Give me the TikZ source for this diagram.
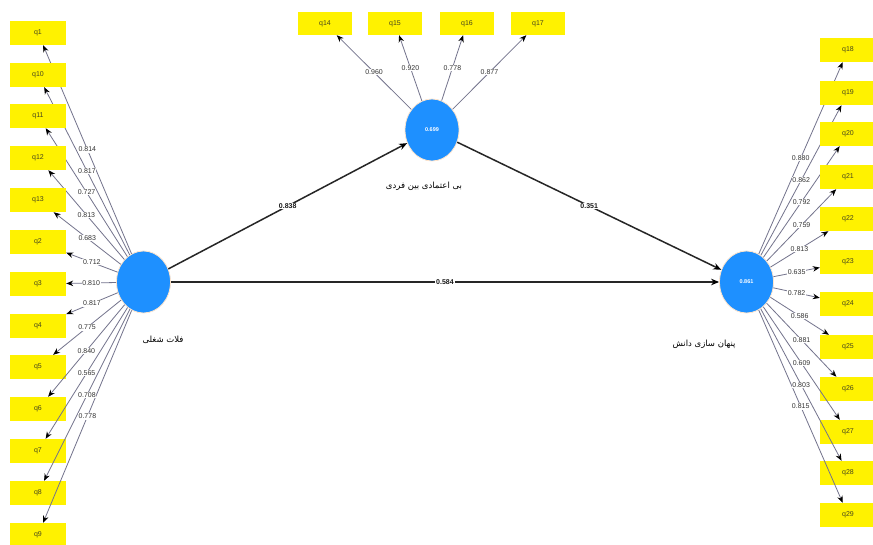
\documentclass[tikz,border=0pt]{standalone}
\usepackage{fontspec}
\setmainfont{Liberation Sans}
\newfontfamily\fa[Script=Arabic]{DejaVu Sans}
\TeXXeTstate=1
\usetikzlibrary{shapes.geometric,arrows.meta}
\definecolor{lvblue}{RGB}{30,144,255}
\definecolor{loadc}{RGB}{115,115,140}
\definecolor{indtext}{RGB}{70,70,30}
\begin{document}
\begin{tikzpicture}[x=1pt,y=-1pt,
  ind/.style={fill=yellow, minimum width=56pt, minimum height=24pt, inner sep=0pt,
    font=\fontsize{7}{8}\selectfont, text=indtext},
  indtop/.style={ind, minimum width=54pt, minimum height=23pt},
  lv/.style={ellipse, fill=lvblue, draw=orange!20, line width=0.8pt, minimum width=54pt,
    minimum height=62pt, inner sep=0pt, text=white, font=\fontsize{5.5}{6}\selectfont\bfseries},
  lvlab/.style={font=\fa\fontsize{8.5}{9}\selectfont, text=black},
  load/.style={draw=loadc, line width=0.8pt, -{Stealth[length=7pt,width=5.5pt,color=black]}},
  path/.style={draw=black!85, line width=1.5pt, -{Stealth[length=8pt,width=6.5pt,color=black]}},
  lbl/.style={fill=white, inner sep=0.6pt, font=\fontsize{7}{7.5}\selectfont, text=black!80},
  plbl/.style={fill=white, inner sep=1pt, font=\fontsize{7}{7.5}\selectfont\bfseries, text=black!90}]
\useasboundingbox (0,0) rectangle (873,545);
\fill[white] (0,0) rectangle (873,545);

% latent variables
\node[lv] (L) at (143.5,282) {};
\node[lv] (T) at (432,130) {0.699};
\node[lv] (R) at (746.5,282) {0.861};
\node[lvlab] (labL) at (163,340) {\beginR فلات شغلی\endR};
\node[lvlab] (labT) at (424,186) {\beginR بی اعتمادی بین فردی\endR};
\node[lvlab] (labR) at (704,344) {\beginR پنهان سازی دانش\endR};

% left indicators
\foreach \n/\y in {1/33,10/75,11/116,12/158,13/200,2/242,3/284,4/326,5/367,6/409,7/451,8/493,9/535}{
  \node[ind] (q\n) at (38,\y) {q\n};
  \draw[load] (L) -- (q\n);
}
\foreach \n/\v in {1/0.814,10/0.817,11/0.727,12/0.813,13/0.683,2/0.712,3/0.810,4/0.817,5/0.775,6/0.840,7/0.565,8/0.708,9/0.778}{
  \path (L) -- node[lbl] (l\n) {\v} (q\n);
}

% top indicators
\foreach \n/\x in {14/325,15/395,16/467,17/538}{
  \node[indtop] (q\n) at (\x,23.5) {q\n};
  \draw[load] (T) -- (q\n);
}
\foreach \n/\v in {14/0.960,15/0.920,16/0.778,17/0.877}{
  \path (T) -- node[lbl] (l\n) {\v} (q\n);
}

% right indicators
\foreach \n/\y in {18/50,19/93,20/134,21/177,22/219,23/262,24/304,25/347,26/389,27/432,28/473,29/515}{
  \node[ind] (q\n) at (848,\y) {q\n};
  \draw[load] (R) -- (q\n);
}
\foreach \n/\v in {18/0.880,19/0.862,20/0.792,21/0.759,22/0.813,23/0.635,24/0.782,25/0.586,26/0.881,27/0.609,28/0.803,29/0.815}{
  \path (R) -- node[lbl] (l\n) {\v} (q\n);
}

% structural paths
\draw[path] (L) -- node[plbl] (pLT) {0.838} (T);
\draw[path] (T) -- node[plbl] (pTR) {0.351} (R);
\draw[path] (L) -- node[plbl] (pLR) {0.584} (R);
\end{tikzpicture}
\end{document}
